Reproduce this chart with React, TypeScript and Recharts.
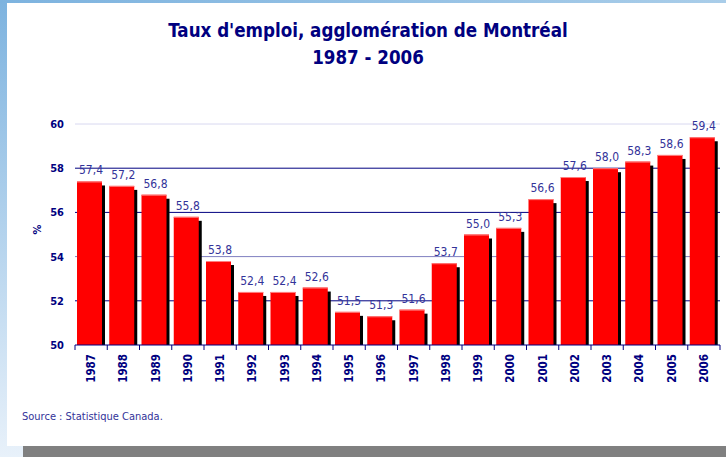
import React from "react";
import {
  BarChart,
  Bar,
  XAxis,
  YAxis,
  CartesianGrid,
  LabelList,
} from "recharts";

const years = [
  "1987", "1988", "1989", "1990", "1991", "1992", "1993", "1994", "1995", "1996",
  "1997", "1998", "1999", "2000", "2001", "2002", "2003", "2004", "2005", "2006",
];
const rates = [
  57.4, 57.2, 56.8, 55.8, 53.8, 52.4, 52.4, 52.6, 51.5, 51.3,
  51.6, 53.7, 55.0, 55.3, 56.6, 57.6, 58.0, 58.3, 58.6, 59.4,
];
const yTicks = [50, 52, 54, 56, 58, 60];

const data = years.map((year, i) => ({ year, rate: rates[i] }));

const NAVY = "#000080";
const LABEL = "#333399";
const FONT = "'DejaVu Sans Condensed', 'DejaVu Sans', sans-serif";
// grid colour per tick (bottom to top)
const gridStroke = ["none", "#000080", "#7f7fc0", "#000080", "#000080", "#d8d8f0"];

const ShadowBar = (props: any) => {
  const { x, y, width, height } = props;
  if (!height || height <= 0) return null;
  const w = width - 3;
  return (
    <g>
      <rect x={x + 3} y={y + 4} width={w} height={height - 4} fill="#000" />
      <rect x={x} y={y} width={w} height={height} fill="#ff0000" />
      <line x1={x} x2={x + w} y1={y + 0.5} y2={y + 0.5} stroke="#ff8080" strokeWidth={1} />
    </g>
  );
};

const YearTick = (props: any) => {
  const { x, y, payload, index, width, visibleTicksCount } = props;
  const band = width / (visibleTicksCount || years.length);
  const left = x - band / 2;
  return (
    <g>
      <line x1={left} x2={left} y1={y - 8} y2={y - 3} stroke={NAVY} />
      {index === years.length - 1 && (
        <line x1={left + band} x2={left + band} y1={y - 8} y2={y - 3} stroke={NAVY} />
      )}
      <text
        transform={`translate(${x},${y + 1}) rotate(-90)`}
        textAnchor="end"
        dy="0.35em"
        fill={NAVY}
        fontSize={11.5}
        fontWeight="bold"
        fontFamily={FONT}
      >
        {payload.value}
      </text>
    </g>
  );
};

const GridLine = (props: any) => {
  const { x1, x2, y1, y2, index } = props;
  const stroke = gridStroke[index] ?? "none";
  return <line x1={x1} x2={x2} y1={y1} y2={y2} stroke={stroke} strokeWidth={1} />;
};

export default function App() {
  return (
    <div
      style={{
        position: "absolute",
        left: 0,
        top: 0,
        width: 726,
        height: 457,
        overflow: "hidden",
        background: "linear-gradient(to bottom, #7db3df, #e8f1fa)",
        fontFamily: FONT,
      }}
    >
      <div
        style={{
          position: "absolute",
          left: 0,
          top: 0,
          width: 726,
          height: 3,
          background: "linear-gradient(to right, #7db3df, #a9cde9)",
        }}
      />
      <div
        style={{
          position: "absolute",
          left: 7,
          top: 3,
          width: 719,
          height: 443,
          background: "#ffffff",
        }}
      />
      <div
        style={{
          position: "absolute",
          left: 23,
          top: 446,
          width: 703,
          height: 11,
          background: "#808080",
        }}
      />
      <div
        style={{
          position: "absolute",
          left: 68,
          width: 600,
          top: 17,
          textAlign: "center",
          whiteSpace: "nowrap",
          color: NAVY,
          fontWeight: "bold",
          fontSize: 18.6,
          lineHeight: "27px",
        }}
      >
        Taux d'emploi, agglomération de Montréal
        <br />
        1987 - 2006
      </div>
      <div style={{ position: "absolute", left: 0, top: 0 }}>
        <BarChart
          width={726}
          height={400}
          data={data}
          margin={{ top: 124, right: 6, left: 20, bottom: 10 }}
          barSize={28}
        >
          <CartesianGrid vertical={false} horizontal={GridLine as any} />
          <XAxis
            dataKey="year"
            height={45}
            axisLine={{ stroke: NAVY }}
            tickLine={false}
            tick={<YearTick />}
            interval={0}
          />
          <YAxis
            width={55}
            domain={[50, 60]}
            ticks={yTicks}
            axisLine={false}
            tickLine={false}
            tickSize={0}
            tickMargin={11}
            tick={{ fill: NAVY, fontSize: 11, fontWeight: "bold", fontFamily: FONT }}
            label={{
              value: "%",
              angle: -90,
              position: "insideLeft",
              offset: 17,
              fill: NAVY,
              fontSize: 11,
              fontWeight: "bold",
              fontFamily: FONT,
            }}
          />
          <Bar dataKey="rate" shape={<ShadowBar />} isAnimationActive={false}>
            <LabelList
              dataKey="rate"
              position="top"
              offset={7}
              fill={LABEL}
              fontSize={12}
              fontFamily={FONT}
              formatter={(v: any) => Number(v).toFixed(1).replace(".", ",")}
            />
          </Bar>
        </BarChart>
      </div>
      <div
        style={{
          position: "absolute",
          left: 22,
          top: 410,
          color: LABEL,
          fontSize: 11,
          lineHeight: "14px",
        }}
      >
        Source : Statistique Canada.
      </div>
    </div>
  );
}
